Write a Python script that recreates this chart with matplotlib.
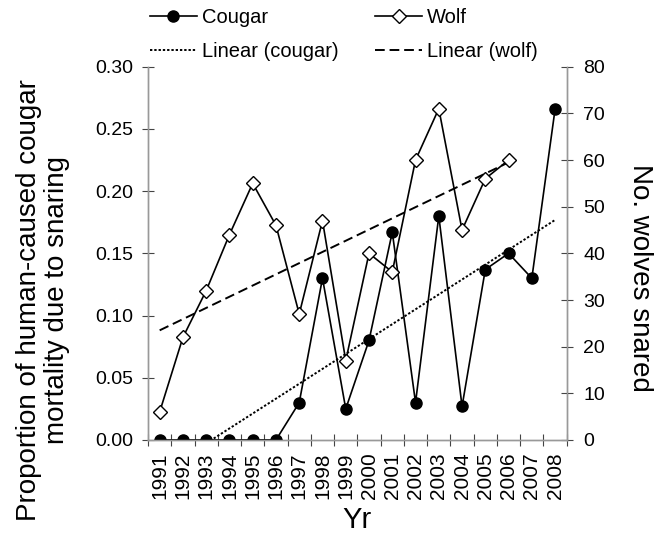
import numpy as np
import matplotlib.pyplot as plt
from matplotlib.ticker import MultipleLocator, FixedLocator, FormatStrFormatter

plt.rcParams['font.family'] = ['Liberation Sans', 'DejaVu Sans']

# данные
years = list(range(1991, 2009))
cougar = [0, 0, 0, 0, 0, 0, 0.03, 0.13, 0.025, 0.08, 0.167, 0.03, 0.18, 0.027,
          0.137, 0.15, 0.13, 0.266]
wolf_years = list(range(1991, 2007))
wolf = [6, 22, 32, 44, 55, 46, 27, 47, 17, 40, 36, 60, 71, 45, 56, 60]

x_c = np.arange(len(years))
x_w = np.arange(len(wolf_years))

# линейные тренды как в Excel
kc, bc = np.polyfit(x_c, cougar, 1)
kw, bw = np.polyfit(x_w, wolf, 1)

fig = plt.figure(figsize=(6.68, 5.45), dpi=100)
ax = fig.add_axes([0.2216, 0.1927, 0.8484 - 0.2216, 0.8776 - 0.1927])
ax2 = ax.twinx()

spine_col = '#999999'
tick_col = '#444444'

l1, = ax.plot(x_c, cougar, color='black', lw=1.2, marker='o', ms=8,
              mfc='black', mec='black', label='Cougar', zorder=5)
l3, = ax.plot(x_c, kc * x_c + bc, color='black', lw=1.4,
              linestyle=(0, (1.2, 1.0)), label='Linear (cougar)', zorder=3)
l2, = ax2.plot(x_w, wolf, color='black', lw=1.2, marker='D', ms=7.5,
               mfc='white', mec='black', mew=1.0, label='Wolf', zorder=5)
l4, = ax2.plot(x_w, kw * x_w + bw, color='black', lw=1.4,
               linestyle=(0, (5, 2.5)), label='Linear (wolf)', zorder=3)

ax.set_xlim(-0.5, len(years) - 0.5)
ax.set_ylim(0, 0.30)
ax2.set_ylim(0, 80)

ax.yaxis.set_major_locator(MultipleLocator(0.05))
ax.yaxis.set_major_formatter(FormatStrFormatter('%.2f'))
ax2.yaxis.set_major_locator(MultipleLocator(10))

ax.set_xticks(x_c)
ax.set_xticklabels([str(y) for y in years], rotation=90)
ax.xaxis.set_minor_locator(FixedLocator(np.arange(-0.5, len(years), 1.0)))

for a in (ax, ax2):
    for s in a.spines.values():
        s.set_color(spine_col)
        s.set_linewidth(1.0)
    a.spines['top'].set_visible(False)

ax.tick_params(axis='x', which='major', length=0, labelsize=15, pad=9)
ax.tick_params(axis='x', which='minor', direction='inout', length=8,
               color=tick_col, width=0.8)
ax.tick_params(axis='y', direction='inout', length=8, color=tick_col,
               width=0.8, labelsize=14, pad=7)
ax2.tick_params(axis='y', direction='inout', length=8, color=tick_col,
                width=0.8, labelsize=14, pad=8)

ax.set_xlabel('Yr', fontsize=21, va='center')
ax.xaxis.set_label_coords(0.5, -0.214)
ax.set_ylabel('Proportion of human-caused cougar\nmortality due to snaring',
              fontsize=20, va='center', linespacing=1.1)
ax.yaxis.set_label_coords(-0.251, 0.376)
ax2.set_ylabel('No. wolves snared', fontsize=20, rotation=270, va='center')
ax2.yaxis.set_label_coords(1.175, 0.434)

fig.legend(handles=[l1, l3, l2, l4], loc='upper left', ncol=2,
           bbox_to_anchor=(0.212, 1.0), frameon=False, fontsize=14.5,
           handlelength=2.35, handletextpad=0.25, columnspacing=1.8,
           labelspacing=0.75, borderaxespad=0.2, borderpad=0.2)

fig.savefig('out.png', dpi=100)
